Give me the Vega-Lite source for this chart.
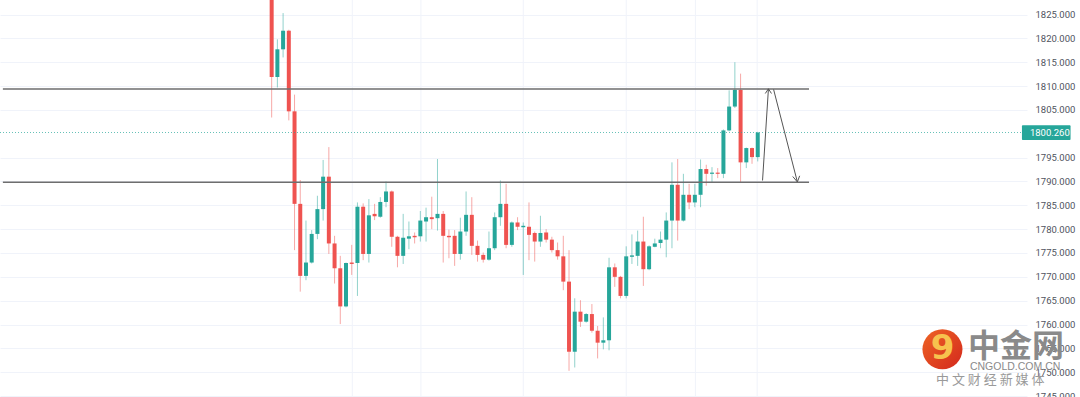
{
  "$schema": "https://vega.github.io/schema/vega-lite/v6.json",
  "width": 1027,
  "height": 397,
  "autosize": "none",
  "padding": {"left": 0, "top": 0, "right": 53, "bottom": 0},
  "background": "white",
  "config": {"view": {"stroke": null}},
  "datasets": {
    "candles": [
      {"i":0,"o":1831,"h":1834,"l":1803.4,"c":1811.9},
      {"i":1,"o":1811.9,"h":1819.8,"l":1809.7,"c":1817.7},
      {"i":2,"o":1817.7,"h":1825.3,"l":1816.0,"c":1821.6},
      {"i":3,"o":1821.6,"h":1821.8,"l":1802.8,"c":1804.7},
      {"i":4,"o":1804.7,"h":1808.2,"l":1775.6,"c":1785.3},
      {"i":5,"o":1785.3,"h":1790.3,"l":1766.9,"c":1770.2},
      {"i":6,"o":1770.2,"h":1781.8,"l":1769.3,"c":1773.0},
      {"i":7,"o":1773.0,"h":1779.8,"l":1772.8,"c":1779.0},
      {"i":8,"o":1779.0,"h":1787.0,"l":1777.9,"c":1784.2},
      {"i":9,"o":1784.2,"h":1794.5,"l":1781.8,"c":1791.0},
      {"i":10,"o":1791.0,"h":1797.2,"l":1774.8,"c":1777.0},
      {"i":11,"o":1777.0,"h":1778.6,"l":1768.6,"c":1771.8},
      {"i":12,"o":1771.8,"h":1774.4,"l":1760.1,"c":1763.8},
      {"i":13,"o":1763.8,"h":1773.0,"l":1763.6,"c":1772.9},
      {"i":14,"o":1773.0,"h":1776.7,"l":1770.4,"c":1772.7},
      {"i":15,"o":1772.9,"h":1785.6,"l":1766.0,"c":1784.7},
      {"i":16,"o":1784.7,"h":1785.4,"l":1773.5,"c":1774.8},
      {"i":17,"o":1774.8,"h":1786.3,"l":1773.0,"c":1782.9},
      {"i":18,"o":1783.2,"h":1785.3,"l":1781.9,"c":1782.7},
      {"i":19,"o":1782.6,"h":1786.7,"l":1782.4,"c":1785.7},
      {"i":20,"o":1785.7,"h":1790.0,"l":1784.6,"c":1787.9},
      {"i":21,"o":1787.9,"h":1788.1,"l":1776.3,"c":1778.4},
      {"i":22,"o":1778.4,"h":1778.6,"l":1772.0,"c":1774.4},
      {"i":23,"o":1774.4,"h":1783.2,"l":1772.7,"c":1778.2},
      {"i":24,"o":1778.0,"h":1781.6,"l":1775.8,"c":1778.5},
      {"i":25,"o":1778.6,"h":1779.3,"l":1777.0,"c":1778.3},
      {"i":26,"o":1778.5,"h":1783.8,"l":1777.4,"c":1781.8},
      {"i":27,"o":1781.6,"h":1784.5,"l":1777.4,"c":1782.5},
      {"i":28,"o":1782.5,"h":1786.8,"l":1780.0,"c":1782.1},
      {"i":29,"o":1782.3,"h":1794.7,"l":1779.7,"c":1783.2},
      {"i":30,"o":1783.2,"h":1783.8,"l":1773.0,"c":1778.6},
      {"i":31,"o":1778.6,"h":1779.9,"l":1773.9,"c":1778.3},
      {"i":32,"o":1778.6,"h":1779.8,"l":1772.3,"c":1774.8},
      {"i":33,"o":1774.8,"h":1782.4,"l":1773.6,"c":1779.5},
      {"i":34,"o":1779.5,"h":1787.9,"l":1778.6,"c":1783.0},
      {"i":35,"o":1783.0,"h":1786.7,"l":1774.6,"c":1776.5},
      {"i":36,"o":1776.5,"h":1777.6,"l":1773.2,"c":1774.6},
      {"i":37,"o":1774.6,"h":1775.1,"l":1773.0,"c":1773.6},
      {"i":38,"o":1773.6,"h":1779.5,"l":1773.4,"c":1776.0},
      {"i":39,"o":1776.0,"h":1783.5,"l":1775.6,"c":1782.5},
      {"i":40,"o":1782.5,"h":1790.2,"l":1780.7,"c":1785.3},
      {"i":41,"o":1785.3,"h":1789.5,"l":1776.0,"c":1776.7},
      {"i":42,"o":1776.7,"h":1781.6,"l":1776.3,"c":1781.4},
      {"i":43,"o":1781.4,"h":1782.5,"l":1779.8,"c":1780.5},
      {"i":44,"o":1780.4,"h":1781.4,"l":1770.4,"c":1780.7},
      {"i":45,"o":1780.5,"h":1785.6,"l":1773.5,"c":1778.8},
      {"i":46,"o":1779.2,"h":1779.5,"l":1773.2,"c":1777.4},
      {"i":47,"o":1777.4,"h":1782.8,"l":1776.3,"c":1779.2},
      {"i":48,"o":1779.3,"h":1780.0,"l":1777.2,"c":1777.8},
      {"i":49,"o":1777.8,"h":1778.4,"l":1775.1,"c":1775.6},
      {"i":50,"o":1775.6,"h":1777.2,"l":1773.6,"c":1774.3},
      {"i":51,"o":1774.3,"h":1778.6,"l":1767.2,"c":1769.0},
      {"i":52,"o":1769.0,"h":1775.6,"l":1750.3,"c":1754.3},
      {"i":53,"o":1754.3,"h":1765.5,"l":1751.0,"c":1762.7},
      {"i":54,"o":1762.7,"h":1765.1,"l":1759.5,"c":1760.6},
      {"i":55,"o":1760.6,"h":1762.4,"l":1760.4,"c":1762.2},
      {"i":56,"o":1762.2,"h":1764.3,"l":1758.3,"c":1758.7},
      {"i":57,"o":1758.7,"h":1759.7,"l":1752.9,"c":1756.2},
      {"i":58,"o":1756.2,"h":1761.5,"l":1754.8,"c":1756.7},
      {"i":59,"o":1756.7,"h":1774.0,"l":1754.6,"c":1772.0},
      {"i":60,"o":1772.0,"h":1772.8,"l":1767.9,"c":1770.0},
      {"i":61,"o":1770.0,"h":1770.2,"l":1765.5,"c":1766.0},
      {"i":62,"o":1766.0,"h":1776.4,"l":1765.5,"c":1774.3},
      {"i":63,"o":1774.2,"h":1778.9,"l":1772.7,"c":1774.5},
      {"i":64,"o":1774.4,"h":1779.7,"l":1772.3,"c":1777.4},
      {"i":65,"o":1777.4,"h":1782.6,"l":1768.1,"c":1771.6},
      {"i":66,"o":1771.6,"h":1776.6,"l":1771.4,"c":1776.4},
      {"i":67,"o":1776.3,"h":1778.0,"l":1776.2,"c":1777.0},
      {"i":68,"o":1777.1,"h":1779.5,"l":1776.0,"c":1777.8},
      {"i":69,"o":1777.8,"h":1783.5,"l":1774.1,"c":1781.8},
      {"i":70,"o":1781.8,"h":1794.0,"l":1776.0,"c":1789.3},
      {"i":71,"o":1789.3,"h":1794.7,"l":1777.6,"c":1781.8},
      {"i":72,"o":1781.8,"h":1791.6,"l":1781.6,"c":1787.2},
      {"i":73,"o":1787.2,"h":1789.5,"l":1784.2,"c":1785.6},
      {"i":74,"o":1785.6,"h":1789.5,"l":1784.6,"c":1787.2},
      {"i":75,"o":1787.2,"h":1794.6,"l":1784.6,"c":1792.6},
      {"i":76,"o":1792.6,"h":1793.5,"l":1789.1,"c":1791.6},
      {"i":77,"o":1791.6,"h":1793.0,"l":1789.7,"c":1791.85},
      {"i":78,"o":1791.85,"h":1792.8,"l":1790.7,"c":1791.6},
      {"i":79,"o":1791.6,"h":1800.9,"l":1790.7,"c":1800.7},
      {"i":80,"o":1800.7,"h":1809.1,"l":1800.5,"c":1805.7},
      {"i":81,"o":1805.7,"h":1815.0,"l":1805.4,"c":1809.2},
      {"i":82,"o":1809.2,"h":1812.6,"l":1789.8,"c":1794.0},
      {"i":83,"o":1794.0,"h":1797.1,"l":1792.8,"c":1797.0},
      {"i":84,"o":1797.0,"h":1797.1,"l":1793.7,"c":1795.1},
      {"i":85,"o":1795.1,"h":1800.4,"l":1794.2,"c":1800.26}
    ],
    "vgrid": [{"g":14.1},{"g":26.1},{"g":44.0},{"g":62.0},{"g":74.1},{"g":84.9}],
    "price": [{"p":1800.26}],
    "levels": [{"x":-47,"x2":93.97,"y":1809.4},{"x":-47,"x2":93.97,"y":1789.85}],
    "arrows": [
      {"x":85.84,"y":1790.2,"x2":86.87,"y2":1809.42},
      {"x":86.87,"y":1809.42,"x2":86.32,"y2":1808.44},
      {"x":86.87,"y":1809.42,"x2":87.40,"y2":1808.44},
      {"x":87.77,"y":1809.3,"x2":91.93,"y2":1789.9},
      {"x":91.93,"y":1789.9,"x2":91.12,"y2":1791.04},
      {"x":91.93,"y":1789.9,"x2":92.33,"y2":1791.18}
    ],
    "tag": [{"x":131.2,"x2":139.7,"y":1801.8,"y2":1798.7,"tx":132.59,"ty":1800.26,"t":"1800.260"}],
    "logo": [{"x":117.3,"y":1754.81}],
    "wmbig": [{"x":130.17,"y":1755.3,"t":"中金网"}],
    "wmsite": [{"x":130.0,"y":1751.0,"t":"CNGOLD.COM.CN"}],
    "wmsub": [{"x":125.66,"y":1748.3,"t":"中 文 财 经 新 媒 体"}]
  },
  "layer": [
    {
      "data": {"name": "vgrid"},
      "mark": {"type": "rule", "color": "#f0f3fa", "strokeWidth": 1},
      "encoding": {
        "x": {"field": "g", "type": "quantitative", "scale": {"domain": [-46.63, 131.21], "nice": false, "zero": false}, "axis": null}
      }
    },
    {
      "data": {"name": "candles"},
      "mark": {"type": "rule", "strokeWidth": 1, "opacity": 0.5, "clip": true},
      "encoding": {
        "x": {"field": "i", "type": "quantitative", "scale": {"domain": [-46.63, 131.21], "nice": false, "zero": false}, "axis": null},
        "y": {"field": "l", "type": "quantitative", "title": null, "scale": {"domain": [1744.81, 1828.04], "nice": false, "zero": false},
              "axis": {"orient": "right", "title": null, "values": [1745,1750,1755,1760,1765,1770,1775,1780,1785,1790,1795,1805,1810,1815,1820,1825],
                       "format": ".3f", "grid": true, "gridColor": "#f0f3fa", "gridWidth": 1, "domain": false, "ticks": false, "labelOverlap": false,
                       "labelPadding": 8, "labelFont": "Roboto", "labelFontSize": 9.5, "labelColor": "#50535e", "labelAlign": "left", "labelBaseline": "middle"}},
        "y2": {"field": "h"},
        "color": {"condition": {"test": "datum.c >= datum.o", "value": "#26a69a"}, "value": "#ef5350"}
      }
    },
    {
      "data": {"name": "candles"},
      "mark": {"type": "bar", "width": 4, "clip": true},
      "encoding": {
        "x": {"field": "i", "type": "quantitative", "scale": {"domain": [-46.63, 131.21], "nice": false, "zero": false}, "axis": null},
        "y": {"field": "o", "type": "quantitative", "title": null, "scale": {"domain": [1744.81, 1828.04], "nice": false, "zero": false},
              "axis": {"orient": "right", "title": null, "values": [1745,1750,1755,1760,1765,1770,1775,1780,1785,1790,1795,1805,1810,1815,1820,1825],
                       "format": ".3f", "grid": true, "gridColor": "#f0f3fa", "gridWidth": 1, "domain": false, "ticks": false, "labelOverlap": false,
                       "labelPadding": 8, "labelFont": "Roboto", "labelFontSize": 9.5, "labelColor": "#50535e", "labelAlign": "left", "labelBaseline": "middle"}},
        "y2": {"field": "c"},
        "color": {"condition": {"test": "datum.c >= datum.o", "value": "#26a69a"}, "value": "#ef5350"}
      }
    },
    {
      "data": {"name": "price"},
      "mark": {"type": "rule", "color": "#26a69a", "strokeDash": [1, 2], "strokeWidth": 1, "opacity": 0.7},
      "encoding": {
        "y": {"field": "p", "type": "quantitative", "title": null, "scale": {"domain": [1744.81, 1828.04], "nice": false, "zero": false},
              "axis": {"orient": "right", "title": null, "values": [1745,1750,1755,1760,1765,1770,1775,1780,1785,1790,1795,1805,1810,1815,1820,1825],
                       "format": ".3f", "grid": true, "gridColor": "#f0f3fa", "gridWidth": 1, "domain": false, "ticks": false, "labelOverlap": false,
                       "labelPadding": 8, "labelFont": "Roboto", "labelFontSize": 9.5, "labelColor": "#50535e", "labelAlign": "left", "labelBaseline": "middle"}}
      }
    },
    {
      "data": {"name": "levels"},
      "mark": {"type": "rule", "color": "#6e6e6e", "strokeWidth": 1.5, "clip": true},
      "encoding": {
        "x": {"field": "x", "type": "quantitative", "scale": {"domain": [-46.63, 131.21], "nice": false, "zero": false}, "axis": null},
        "x2": {"field": "x2"},
        "y": {"field": "y", "type": "quantitative", "title": null, "scale": {"domain": [1744.81, 1828.04], "nice": false, "zero": false},
              "axis": {"orient": "right", "title": null, "values": [1745,1750,1755,1760,1765,1770,1775,1780,1785,1790,1795,1805,1810,1815,1820,1825],
                       "format": ".3f", "grid": true, "gridColor": "#f0f3fa", "gridWidth": 1, "domain": false, "ticks": false, "labelOverlap": false,
                       "labelPadding": 8, "labelFont": "Roboto", "labelFontSize": 9.5, "labelColor": "#50535e", "labelAlign": "left", "labelBaseline": "middle"}}
      }
    },
    {
      "data": {"name": "arrows"},
      "mark": {"type": "rule", "color": "#555555", "strokeWidth": 1},
      "encoding": {
        "x": {"field": "x", "type": "quantitative", "scale": {"domain": [-46.63, 131.21], "nice": false, "zero": false}, "axis": null},
        "x2": {"field": "x2"},
        "y": {"field": "y", "type": "quantitative", "title": null, "scale": {"domain": [1744.81, 1828.04], "nice": false, "zero": false},
              "axis": {"orient": "right", "title": null, "values": [1745,1750,1755,1760,1765,1770,1775,1780,1785,1790,1795,1805,1810,1815,1820,1825],
                       "format": ".3f", "grid": true, "gridColor": "#f0f3fa", "gridWidth": 1, "domain": false, "ticks": false, "labelOverlap": false,
                       "labelPadding": 8, "labelFont": "Roboto", "labelFontSize": 9.5, "labelColor": "#50535e", "labelAlign": "left", "labelBaseline": "middle"}},
        "y2": {"field": "y2"}
      }
    },
    {
      "data": {"name": "tag"},
      "mark": {"type": "rect", "color": "#26a69a", "cornerRadius": 1, "clip": false},
      "encoding": {
        "x": {"field": "x", "type": "quantitative", "scale": {"domain": [-46.63, 131.21], "nice": false, "zero": false}, "axis": null},
        "x2": {"field": "x2"},
        "y": {"field": "y", "type": "quantitative", "title": null, "scale": {"domain": [1744.81, 1828.04], "nice": false, "zero": false},
              "axis": {"orient": "right", "title": null, "values": [1745,1750,1755,1760,1765,1770,1775,1780,1785,1790,1795,1805,1810,1815,1820,1825],
                       "format": ".3f", "grid": true, "gridColor": "#f0f3fa", "gridWidth": 1, "domain": false, "ticks": false, "labelOverlap": false,
                       "labelPadding": 8, "labelFont": "Roboto", "labelFontSize": 9.5, "labelColor": "#50535e", "labelAlign": "left", "labelBaseline": "middle"}},
        "y2": {"field": "y2"}
      }
    },
    {
      "data": {"name": "tag"},
      "mark": {"type": "text", "color": "#ffffff", "font": "Roboto", "fontSize": 9.5, "align": "left", "baseline": "middle", "clip": false},
      "encoding": {
        "x": {"field": "tx", "type": "quantitative", "scale": {"domain": [-46.63, 131.21], "nice": false, "zero": false}, "axis": null},
        "y": {"field": "ty", "type": "quantitative", "title": null, "scale": {"domain": [1744.81, 1828.04], "nice": false, "zero": false},
              "axis": {"orient": "right", "title": null, "values": [1745,1750,1755,1760,1765,1770,1775,1780,1785,1790,1795,1805,1810,1815,1820,1825],
                       "format": ".3f", "grid": true, "gridColor": "#f0f3fa", "gridWidth": 1, "domain": false, "ticks": false, "labelOverlap": false,
                       "labelPadding": 8, "labelFont": "Roboto", "labelFontSize": 9.5, "labelColor": "#50535e", "labelAlign": "left", "labelBaseline": "middle"}},
        "text": {"field": "t"}
      }
    },
    {
      "data": {"name": "logo"},
      "mark": {"type": "point", "shape": "circle", "filled": true, "size": 1600, "opacity": 1, "clip": false,
               "color": {"gradient": "linear", "x1": 0, "y1": 0, "x2": 1, "y2": 1, "stops": [{"offset": 0, "color": "#ee6424"}, {"offset": 1, "color": "#d3281d"}]}},
      "encoding": {
        "x": {"field": "x", "type": "quantitative", "scale": {"domain": [-46.63, 131.21], "nice": false, "zero": false}, "axis": null},
        "y": {"field": "y", "type": "quantitative", "title": null, "scale": {"domain": [1744.81, 1828.04], "nice": false, "zero": false},
              "axis": {"orient": "right", "title": null, "values": [1745,1750,1755,1760,1765,1770,1775,1780,1785,1790,1795,1805,1810,1815,1820,1825],
                       "format": ".3f", "grid": true, "gridColor": "#f0f3fa", "gridWidth": 1, "domain": false, "ticks": false, "labelOverlap": false,
                       "labelPadding": 8, "labelFont": "Roboto", "labelFontSize": 9.5, "labelColor": "#50535e", "labelAlign": "left", "labelBaseline": "middle"}}
      }
    },
    {
      "data": {"name": "logo"},
      "mark": {"type": "text", "text": "9", "font": "DejaVu Sans", "fontWeight": "bold", "fontSize": 34, "color": "#f7c24e", "align": "center", "baseline": "middle", "clip": false},
      "encoding": {
        "x": {"field": "x", "type": "quantitative", "scale": {"domain": [-46.63, 131.21], "nice": false, "zero": false}, "axis": null},
        "y": {"field": "y", "type": "quantitative", "title": null, "scale": {"domain": [1744.81, 1828.04], "nice": false, "zero": false},
              "axis": {"orient": "right", "title": null, "values": [1745,1750,1755,1760,1765,1770,1775,1780,1785,1790,1795,1805,1810,1815,1820,1825],
                       "format": ".3f", "grid": true, "gridColor": "#f0f3fa", "gridWidth": 1, "domain": false, "ticks": false, "labelOverlap": false,
                       "labelPadding": 8, "labelFont": "Roboto", "labelFontSize": 9.5, "labelColor": "#50535e", "labelAlign": "left", "labelBaseline": "middle"}}
      }
    },
    {
      "data": {"name": "wmbig"},
      "mark": {"type": "text", "font": "Noto Sans CJK SC", "fontWeight": "bold", "fontSize": 32, "color": "#8a8a8a", "align": "center", "baseline": "middle", "clip": false},
      "encoding": {
        "x": {"field": "x", "type": "quantitative", "scale": {"domain": [-46.63, 131.21], "nice": false, "zero": false}, "axis": null},
        "y": {"field": "y", "type": "quantitative", "title": null, "scale": {"domain": [1744.81, 1828.04], "nice": false, "zero": false},
              "axis": {"orient": "right", "title": null, "values": [1745,1750,1755,1760,1765,1770,1775,1780,1785,1790,1795,1805,1810,1815,1820,1825],
                       "format": ".3f", "grid": true, "gridColor": "#f0f3fa", "gridWidth": 1, "domain": false, "ticks": false, "labelOverlap": false,
                       "labelPadding": 8, "labelFont": "Roboto", "labelFontSize": 9.5, "labelColor": "#50535e", "labelAlign": "left", "labelBaseline": "middle"}},
        "text": {"field": "t"}
      }
    },
    {
      "data": {"name": "wmsite"},
      "mark": {"type": "text", "font": "Liberation Sans", "fontSize": 10.5, "color": "#8a8a8a", "align": "center", "baseline": "middle", "clip": false},
      "encoding": {
        "x": {"field": "x", "type": "quantitative", "scale": {"domain": [-46.63, 131.21], "nice": false, "zero": false}, "axis": null},
        "y": {"field": "y", "type": "quantitative", "title": null, "scale": {"domain": [1744.81, 1828.04], "nice": false, "zero": false},
              "axis": {"orient": "right", "title": null, "values": [1745,1750,1755,1760,1765,1770,1775,1780,1785,1790,1795,1805,1810,1815,1820,1825],
                       "format": ".3f", "grid": true, "gridColor": "#f0f3fa", "gridWidth": 1, "domain": false, "ticks": false, "labelOverlap": false,
                       "labelPadding": 8, "labelFont": "Roboto", "labelFontSize": 9.5, "labelColor": "#50535e", "labelAlign": "left", "labelBaseline": "middle"}},
        "text": {"field": "t"}
      }
    },
    {
      "data": {"name": "wmsub"},
      "mark": {"type": "text", "font": "Noto Sans CJK SC", "fontSize": 13, "color": "#9a9a9a", "align": "center", "baseline": "middle", "clip": false},
      "encoding": {
        "x": {"field": "x", "type": "quantitative", "scale": {"domain": [-46.63, 131.21], "nice": false, "zero": false}, "axis": null},
        "y": {"field": "y", "type": "quantitative", "title": null, "scale": {"domain": [1744.81, 1828.04], "nice": false, "zero": false},
              "axis": {"orient": "right", "title": null, "values": [1745,1750,1755,1760,1765,1770,1775,1780,1785,1790,1795,1805,1810,1815,1820,1825],
                       "format": ".3f", "grid": true, "gridColor": "#f0f3fa", "gridWidth": 1, "domain": false, "ticks": false, "labelOverlap": false,
                       "labelPadding": 8, "labelFont": "Roboto", "labelFontSize": 9.5, "labelColor": "#50535e", "labelAlign": "left", "labelBaseline": "middle"}},
        "text": {"field": "t"}
      }
    }
  ]
}
